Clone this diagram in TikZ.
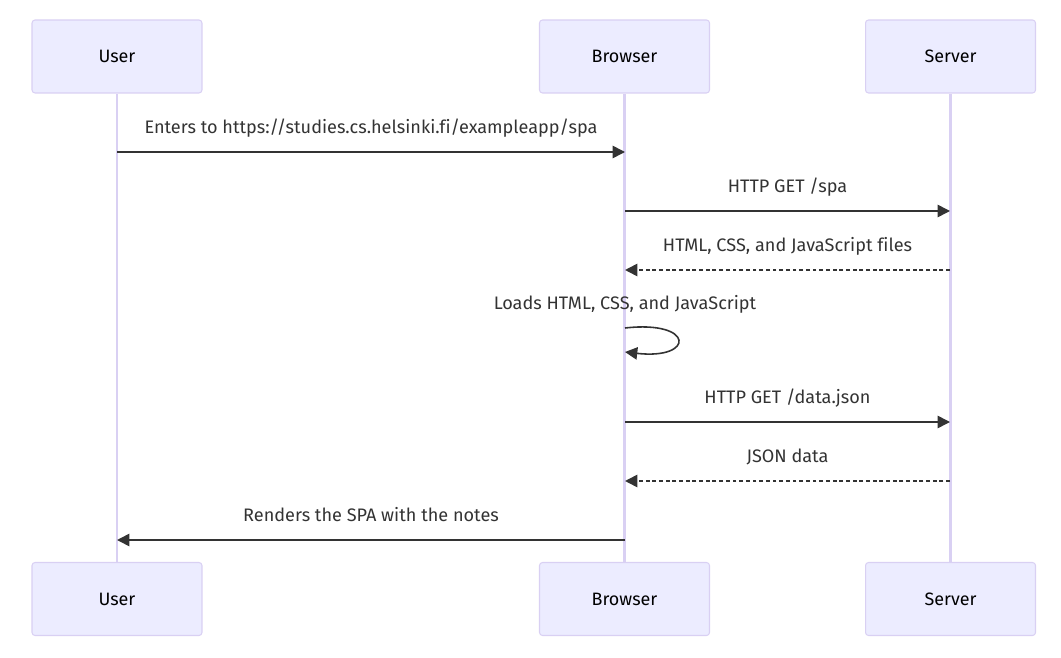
\documentclass[tikz,border=0pt]{standalone}
\usepackage{fontspec}
\setmainfont[Ligatures=NoCommon]{Fira Sans}
\usetikzlibrary{arrows.meta}

\definecolor{actfill}{HTML}{ECECFF}
\definecolor{actline}{HTML}{D9D0F3}
\definecolor{msgline}{HTML}{333333}

\begin{document}
\begin{tikzpicture}[x=0.02cm,y=-0.02cm,
    actor/.style={draw=actline, fill=actfill, rounded corners=0.06cm, line width=0.6pt,
      minimum width=3.4cm, minimum height=1.46cm, text=black, font=\fontsize{10.2}{12}\selectfont},
    life/.style={draw=actline, line width=1.5pt},
    msg/.style={draw=msgline, line width=0.9pt, -{Triangle[length=7pt,width=7pt]}},
    reply/.style={msg, dash pattern=on 2.2pt off 1.6pt},
    lbl/.style={midway, anchor=base, yshift=0.38cm, text=msgline, font=\fontsize{10.3}{12}\selectfont}]
    \useasboundingbox (0,0) rectangle (1061,658);

    \node[actor] (user) at (117,56.5) {User};
    \node[actor] (browser) at (624.5,56.5) {Browser};
    \node[actor] (server) at (950.5,56.5) {Server};

    \node[actor] (userb) at (117,599) {User};
    \node[actor] (browserb) at (624.5,599) {Browser};
    \node[actor] (serverb) at (950.5,599) {Server};

    \draw[life] (user.south) -- (userb.north);
    \draw[life] (browser.south) -- (browserb.north);
    \draw[life] (server.south) -- (serverb.north);

    \coordinate (u1) at (117,152);
    \coordinate (b1) at (625,152);
    \coordinate (b2) at (625,211);
    \coordinate (s2) at (950,211);
    \coordinate (s3) at (950,270);
    \coordinate (b3) at (625,270);
    \coordinate (b4) at (625,328);
    \coordinate (b4e) at (625,352);
    \coordinate (b5) at (625,422);
    \coordinate (s5) at (950,422);
    \coordinate (s6) at (950,481);
    \coordinate (b6) at (625,481);
    \coordinate (b7) at (625,540);
    \coordinate (u7) at (117,540);

    \draw[msg] (u1) -- (b1) node[lbl] {Enters to https://studies.cs.helsinki.fi/exampleapp/spa};
    \draw[msg] (b2) -- (s2) node[lbl] {HTTP GET /spa};
    \draw[reply] (s3) -- (b3) node[lbl] {HTML, CSS, and JavaScript files};

    \node[anchor=base, text=msgline, font=\fontsize{10.3}{12}\selectfont] (loadlbl) at (625,310) {Loads HTML, CSS, and JavaScript};
    \draw[msg] (b4) .. controls (695,320) and (695,360) .. (b4e);

    \draw[msg] (b5) -- (s5) node[lbl] {HTTP GET /data.json};
    \draw[reply] (s6) -- (b6) node[lbl] {JSON data};
    \draw[msg] (b7) -- (u7) node[lbl] {Renders the SPA with the notes};
\end{tikzpicture}
\end{document}
